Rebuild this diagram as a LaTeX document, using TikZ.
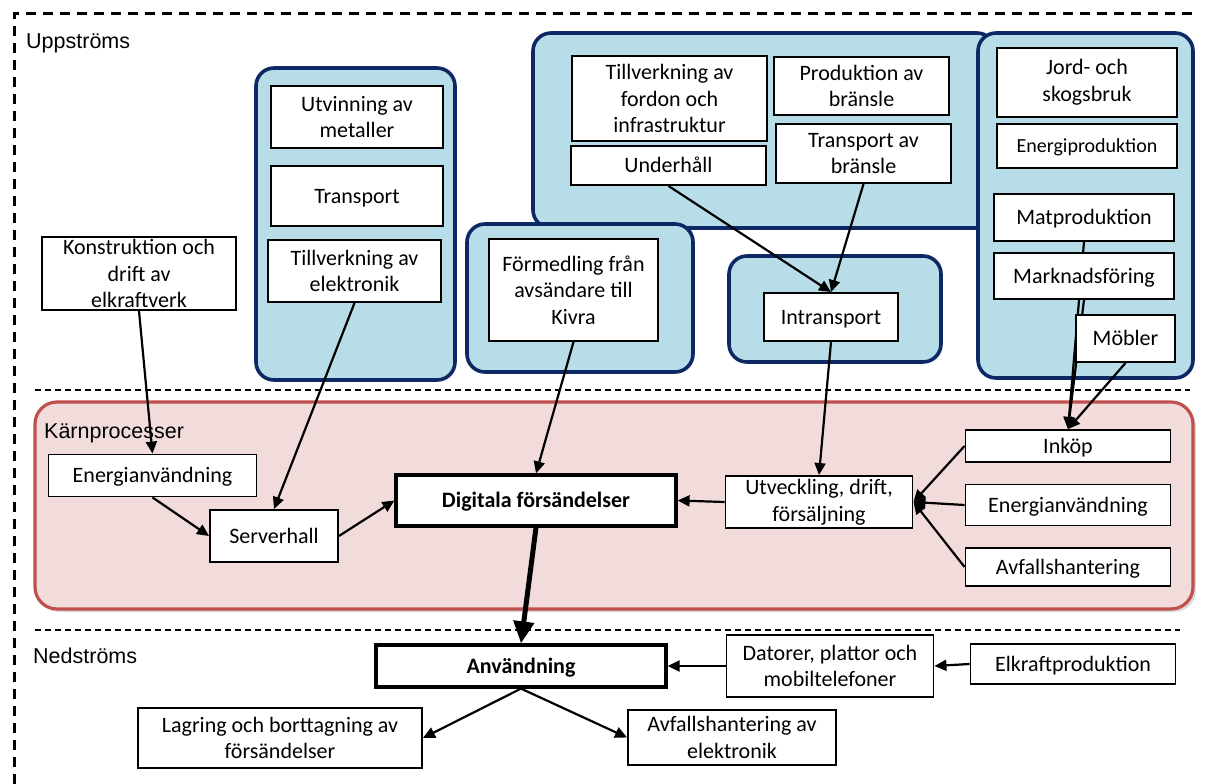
\documentclass[tikz,border=0pt]{standalone}
\usepackage{fontspec}
\setmainfont{Carlito}
\newfontfamily\labfont{Liberation Sans}
\usetikzlibrary{arrows.meta}
\definecolor{grpfill}{RGB}{183,221,232}
\definecolor{grpline}{RGB}{14,40,102}
\definecolor{corefill}{RGB}{242,220,219}
\definecolor{coreline}{RGB}{192,80,77}
\pgfdeclarelayer{bg}
\pgfdeclarelayer{mid}
\pgfsetlayers{bg,mid,main}
\tikzset{
  box/.style={draw=black, line width=1.9pt, fill=white, inner sep=0pt, align=center,
    font=\fontsize{22}{26.5}\selectfont},
  sl/.style={text height=15pt, text depth=1pt},
  boldbox/.style={box, line width=3.2pt, font=\fontsize{22}{26.5}\selectfont\bfseries},
  grp/.style={draw=grpline, fill=grpfill, line width=3.6pt, rounded corners=18pt},
  arr/.style={line width=2.2pt, -{Triangle[length=12pt,width=11pt]}},
  thickarr/.style={line width=5pt, -{Triangle[length=22pt,width=20pt]}},
  seclabel/.style={anchor=base west, inner sep=0pt, font=\labfont\fontsize{21.5}{24}\selectfont},
  sep/.style={line width=1.6pt, dash pattern=on 6pt off 4pt}
}
\begin{document}
\begin{tikzpicture}[x=1pt,y=-1pt]
\useasboundingbox (0,0) rectangle (1211,784);
% frame
\draw[line width=3pt, dash pattern=on 10pt off 7pt] (14,784) -- (14,14) -- (1197,14);
\draw[sep] (35,390) -- (1190,390);
\draw[sep] (35,630) -- (1180,630);
% labels
\node[seclabel] (lup) at (26,49) {Uppströms};
\node[seclabel] (ldown) at (33,663) {Nedströms};
% upstream boxes
\node[box, minimum width=194pt, minimum height=73pt] (konstr) at (139,273.5) {Konstruktion och\\drift av\\elkraftverk};
\node[box, minimum width=172pt, minimum height=62pt] (utv) at (357,117) {Utvinning av\\metaller};
\node[box, sl, minimum width=172pt, minimum height=60pt] (transp) at (357,196) {Transport};
\node[box, minimum width=173pt, minimum height=62pt] (tillel) at (354.5,271) {Tillverkning av\\elektronik};
\node[box, minimum width=169pt, minimum height=102pt] (formed) at (573.5,290) {Förmedling från\\avsändare till\\Kivra};
\node[box, minimum width=195pt, minimum height=85pt] (tillford) at (669.5,98.5) {Tillverkning av\\fordon och\\infrastruktur};
\node[box, sl, minimum width=195pt, minimum height=39pt] (underh) at (668.5,165.5) {Underhåll};
\node[box, minimum width=175pt, minimum height=58pt] (prodbr) at (861.5,86) {Produktion av\\bränsle};
\node[box, minimum width=175pt, minimum height=59pt] (transbr) at (863.5,153.5) {Transport av\\bränsle};
\node[box, sl, minimum width=134pt, minimum height=48pt] (intr) at (831,317) {Intransport};
\node[box, minimum width=180pt, minimum height=69pt] (jord) at (1087,82.5) {Jord- och\\skogsbruk};
\node[box, minimum width=180pt, minimum height=44pt, font=\fontsize{20}{24}\selectfont, text height=14pt, text depth=1pt] (energip) at (1087,146) {Energiproduktion};
\node[box, sl, minimum width=180pt, minimum height=47pt] (mat) at (1084,217.5) {Matproduktion};
\node[box, sl, minimum width=180pt, minimum height=46pt] (mark) at (1084,276) {Marknadsföring};
\node[box, sl, minimum width=99pt, minimum height=47pt] (mobl) at (1125.5,338.5) {Möbler};
% core
\node[seclabel] (lcore) at (44,438) {Kärnprocesser};
\node[box, sl, minimum width=208pt, minimum height=42pt] (energi) at (152.5,475.5) {Energianvändning};
\node[box, sl, minimum width=128pt, minimum height=52pt] (server) at (274,536) {Serverhall};
\node[boldbox, sl, minimum width=280pt, minimum height=51pt] (digi) at (536,500.5) {Digitala försändelser};
\node[box, minimum width=187pt, minimum height=52pt] (utveck) at (819,502) {Utveckling, drift,\\försäljning};
\node[box, sl, minimum width=205pt, minimum height=32pt] (inkop) at (1068,446) {Inköp};
\node[box, sl, minimum width=205pt, minimum height=41pt] (energi2) at (1068,505) {Energianvändning};
\node[box, sl, minimum width=205pt, minimum height=38pt] (avfall) at (1068,567) {Avfallshantering};
% downstream
\node[boldbox, sl, minimum width=290pt, minimum height=42pt] (anv) at (521,666) {Användning};
\node[box, minimum width=207pt, minimum height=62pt] (dator) at (830,666) {Datorer, plattor och\\mobiltelefoner};
\node[box, sl, minimum width=205pt, minimum height=40pt] (elkraft) at (1073,664) {Elkraftproduktion};
\node[box, minimum width=284pt, minimum height=60pt] (lagring) at (280,738) {Lagring och borttagning av\\försändelser};
\node[box, minimum width=208pt, minimum height=55pt] (avfallel) at (732,737.5) {Avfallshantering av\\elektronik};
% arrows
\begin{pgfonlayer}{mid}
\draw[arr] (konstr.south) -- (energi.north);
\draw[arr] (tillel.south) -- (server.north);
\draw[arr] (energi.south) -- (server.west);
\draw[arr] (server.east) -- (digi.west);
\draw[arr] (formed.south) -- (digi.north);
\draw[arr] (underh.south) -- (intr.north);
\draw[arr] (transbr.south) -- (intr.north);
\draw[arr] (intr.south) -- (utveck.north);
\draw[arr] (utveck.west) -- (digi.east);
\draw[arr] (inkop.west) -- (utveck.east);
\draw[arr] (energi2.west) -- (utveck.east);
\draw[arr] (avfall.west) -- (utveck.east);
\draw[arr] (mat.south) -- (inkop.north);
\draw[arr] (mark.south) -- (inkop.north);
\draw[arr] (mobl.south) -- (inkop.north);
\draw[thickarr] (digi.south) -- (anv.north);
\draw[arr] (dator.west) -- (anv.east);
\draw[arr] (elkraft.west) -- (dator.east);
\draw[arr] (anv.south) -- (lagring.east);
\draw[arr] (anv.south) -- (avfallel.west);
\end{pgfonlayer}
% groups
\begin{pgfonlayer}{bg}
\fill[black!15, rounded corners=22pt] (38,405) rectangle (1196,612);
\draw[draw=coreline, fill=corefill, line width=3.2pt, rounded corners=22pt] (35,402) rectangle (1193,609);
\draw[grp] (256,68) rectangle (455,380);
\draw[grp] (533,33) rectangle (995,228);
\draw[grp] (467,224) rectangle (693,372);
\draw[grp] (729,256) rectangle (941,362);
\draw[grp] (978,33) rectangle (1193,378);
\end{pgfonlayer}
\end{tikzpicture}
\end{document}
